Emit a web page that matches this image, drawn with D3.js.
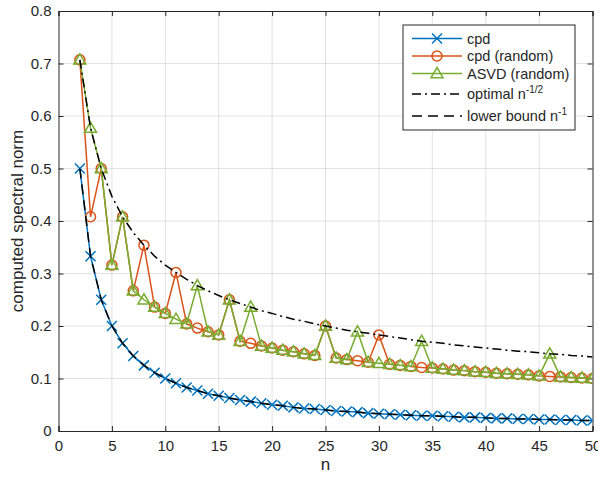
<!DOCTYPE html>
<html>
<head>
<meta charset="utf-8">
<style>
  body { margin: 0; background: #fff; }
  text { font-family: "Liberation Sans", Arial, sans-serif; fill: #262626; }
  .grid line { stroke: #262626; stroke-opacity: 0.13; }
</style>
</head>
<body>
<svg id="chart" width="598" height="478"></svg>
<script src="https://cdn.jsdelivr.net/npm/d3@7"></script>
<script>
// values
let ns = [2, 3, 4, 5, 6, 7, 8, 9, 10, 11, 12, 13, 14, 15, 16, 17, 18, 19, 20, 21, 22, 23, 24, 25, 26,
  27, 28, 29, 30, 31, 32, 33, 34, 35, 36, 37, 38, 39, 40, 41, 42, 43, 44, 45, 46, 47, 48, 49, 50]

let cpd = [0.500, 0.333, 0.250, 0.200, 0.167, 0.143, 0.125, 0.111, 0.100, 0.091, 0.083, 0.077, 0.071,
  0.067, 0.063, 0.059, 0.056, 0.053, 0.050, 0.048, 0.045, 0.043, 0.042, 0.040, 0.038, 0.037, 0.036,
  0.034, 0.033, 0.032, 0.031, 0.030, 0.029, 0.029, 0.028, 0.027, 0.026, 0.026, 0.025, 0.024, 0.024,
  0.023, 0.023, 0.022, 0.022, 0.021, 0.021, 0.020, 0.020]

let cpdRandom = [0.707, 0.408, 0.500, 0.316, 0.408, 0.267, 0.354, 0.236, 0.224, 0.302, 0.204, 0.196,
  0.189, 0.183, 0.250, 0.171, 0.167, 0.162, 0.158, 0.154, 0.151, 0.147, 0.144, 0.200, 0.139, 0.136,
  0.134, 0.131, 0.183, 0.127, 0.125, 0.123, 0.121, 0.120, 0.118, 0.116, 0.115, 0.113, 0.112, 0.110,
  0.109, 0.108, 0.107, 0.105, 0.104, 0.103, 0.102, 0.101, 0.100]

let asvdRandom = [0.707, 0.577, 0.500, 0.316, 0.408, 0.267, 0.250, 0.236, 0.224, 0.213, 0.204, 0.277,
  0.189, 0.183, 0.250, 0.171, 0.236, 0.162, 0.158, 0.154, 0.151, 0.147, 0.144, 0.200, 0.139, 0.136,
  0.189, 0.131, 0.129, 0.127, 0.125, 0.123, 0.171, 0.120, 0.118, 0.116, 0.115, 0.113, 0.112, 0.110,
  0.109, 0.108, 0.107, 0.105, 0.147, 0.103, 0.102, 0.101, 0.100]

let optimal = [0.707, 0.577, 0.500, 0.447, 0.408, 0.378, 0.354, 0.333, 0.316, 0.302, 0.289, 0.277,
  0.267, 0.258, 0.250, 0.243, 0.236, 0.229, 0.224, 0.218, 0.213, 0.209, 0.204, 0.200, 0.196, 0.192,
  0.189, 0.186, 0.183, 0.180, 0.177, 0.174, 0.171, 0.169, 0.167, 0.164, 0.162, 0.160, 0.158, 0.156,
  0.154, 0.152, 0.151, 0.149, 0.147, 0.146, 0.144, 0.143, 0.141]

let lowerBound = cpd.slice()

let xTicks = [0, 5, 10, 15, 20, 25, 30, 35, 40, 45, 50]
let yTicks = [0, 0.1, 0.2, 0.3, 0.4, 0.5, 0.6, 0.7, 0.8]

let svg = d3.select("#chart")
let mLeft = 58.5, mRight = 592.5, mTop = 11, mBottom = 431

let x = d3.scaleLinear().domain([0, 50]).range([mLeft, mRight])
let y = d3.scaleLinear().domain([0, 0.8]).range([mBottom, mTop])

// grid
let grid = svg.append("g").attr("class", "grid")
grid.selectAll("line.v").data(xTicks.slice(1, -1)).enter().append("line")
  .attr("x1", d => x(d)).attr("x2", d => x(d)).attr("y1", mTop).attr("y2", mBottom)
grid.selectAll("line.h").data(yTicks.slice(1, -1)).enter().append("line")
  .attr("y1", d => y(d)).attr("y2", d => y(d)).attr("x1", mLeft).attr("x2", mRight)

// axes (ticks inside, MATLAB style)
let axisColor = "#262626"
let xAxis = svg.append("g").attr("transform", `translate(0,${mBottom})`)
  .call(d3.axisBottom(x).tickValues(xTicks).tickSize(-5).tickPadding(9).tickFormat(d3.format("d")))
let xTop = svg.append("g").attr("transform", `translate(0,${mTop})`)
  .call(d3.axisTop(x).tickValues(xTicks).tickSize(-5).tickFormat(""))
let yAxis = svg.append("g").attr("transform", `translate(${mLeft},0)`)
  .call(d3.axisLeft(y).tickValues(yTicks).tickSize(-5).tickPadding(7).tickFormat(d => d === 0 ? "0" : d3.format(".1f")(d)))
let yRight = svg.append("g").attr("transform", `translate(${mRight},0)`)
  .call(d3.axisRight(y).tickValues(yTicks).tickSize(-5).tickFormat(""))

;[xAxis, xTop, yAxis, yRight].forEach(g => {
  g.selectAll("path").attr("stroke", axisColor).attr("stroke-width", 1)
  g.selectAll("line").attr("stroke", axisColor)
  g.selectAll("text").attr("font-size", 15).attr("fill", axisColor)
    .attr("font-family", "'Liberation Sans', Arial, sans-serif")
})

svg.append("text").attr("x", (mLeft + mRight) / 2).attr("y", 470).attr("text-anchor", "middle")
  .attr("font-size", 17).text("n")
svg.append("text").attr("transform", `translate(23,${(mTop + mBottom) / 2}) rotate(-90)`)
  .attr("text-anchor", "middle").attr("font-size", 17).text("computed spectral norm")

// plot clip
svg.append("clipPath").attr("id", "clip").append("rect")
  .attr("x", mLeft).attr("y", mTop).attr("width", mRight - mLeft).attr("height", mBottom - mTop)
let plot = svg.append("g").attr("clip-path", "url(#clip)")

let line = d3.line().x(d => x(d[0])).y(d => y(d[1]))
let zip = vals => ns.map((n, i) => [n, vals[i]])

let blue = "#0072BD", orange = "#D95319", green = "#77AC30"

function drawMarker(g, type, color, cx, cy) {
  if (type === "x") {
    let s = 5
    g.append("path").attr("d", `M${cx - s},${cy - s}L${cx + s},${cy + s}M${cx - s},${cy + s}L${cx + s},${cy - s}`)
      .attr("stroke", color).attr("stroke-width", 1.5).attr("fill", "none")
  } else if (type === "o") {
    g.append("circle").attr("cx", cx).attr("cy", cy).attr("r", 5)
      .attr("stroke", color).attr("stroke-width", 1.5).attr("fill", "none")
  } else if (type === "^") {
    let s = 6
    g.append("path").attr("d", `M${cx},${cy - s}L${cx + s},${cy + s * 0.7}L${cx - s},${cy + s * 0.7}Z`)
      .attr("stroke", color).attr("stroke-width", 1.5).attr("fill", "none")
  }
}

let series = [
  { name: "cpd", vals: cpd, color: blue, marker: "x" },
  { name: "cpd (random)", vals: cpdRandom, color: orange, marker: "o" },
  { name: "ASVD (random)", vals: asvdRandom, color: green, marker: "^" }
]

series.forEach(s => {
  let g = plot.append("g")
  g.append("path").datum(zip(s.vals)).attr("d", line)
    .attr("fill", "none").attr("stroke", s.color).attr("stroke-width", 1.5)
  zip(s.vals).forEach(d => drawMarker(g, s.marker, s.color, x(d[0]), y(d[1])))
})

plot.append("path").datum(zip(optimal)).attr("d", line)
  .attr("fill", "none").attr("stroke", "#000").attr("stroke-width", 1.5).attr("stroke-dasharray", "9,4,2,4")
plot.append("path").datum(zip(lowerBound)).attr("d", line)
  .attr("fill", "none").attr("stroke", "#000").attr("stroke-width", 1.5).attr("stroke-dasharray", "10,6")

// legend
let legend = svg.append("g")
legend.append("rect").attr("x", 403).attr("y", 25).attr("width", 172).attr("height", 105)
  .attr("fill", "#fff").attr("stroke", axisColor).attr("stroke-width", 1)

let legendItems = [
  { label: "cpd", color: blue, marker: "x", dash: null, y: 38.5 },
  { label: "cpd (random)", color: orange, marker: "o", dash: null, y: 56 },
  { label: "ASVD (random)", color: green, marker: "^", dash: null, y: 73.5 },
  { label: "optimal n", sup: "-1/2", color: "#000", marker: null, dash: "9,4,2,4", y: 94 },
  { label: "lower bound n", sup: "-1", color: "#000", marker: null, dash: "10,6", y: 116 }
]
legendItems.forEach(it => {
  legend.append("line").attr("x1", 412).attr("x2", 462).attr("y1", it.y).attr("y2", it.y)
    .attr("stroke", it.color).attr("stroke-width", 1.5).attr("stroke-dasharray", it.dash)
  if (it.marker) drawMarker(legend, it.marker, it.color, 437, it.y)
  let t = legend.append("text").attr("x", 467).attr("y", it.y + 5).attr("font-size", 14.5).text(it.label)
  if (it.sup) t.append("tspan").attr("dy", -6).attr("font-size", 10).text(it.sup)
})
</script>
</body>
</html>
